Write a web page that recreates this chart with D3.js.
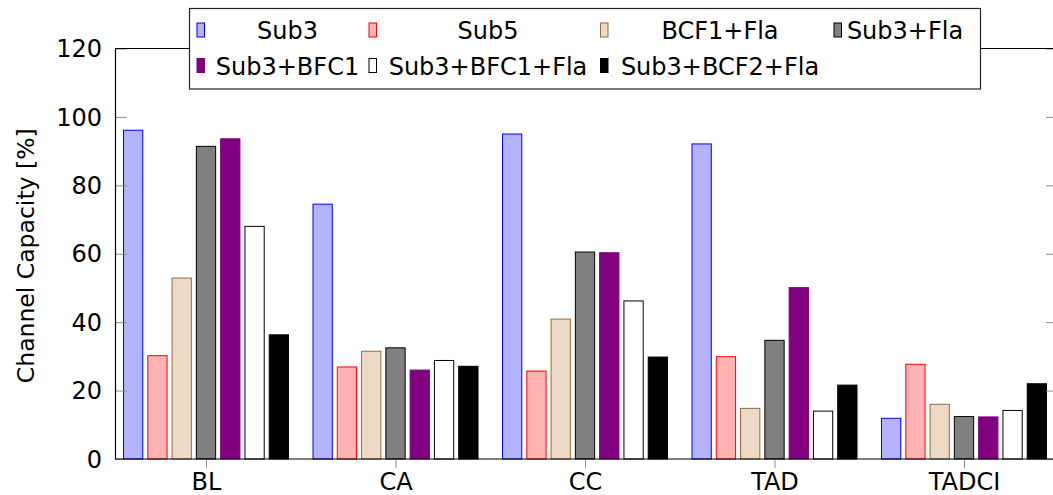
<!DOCTYPE html>
<html>
<head>
<meta charset="utf-8">
<script src="https://cdn.jsdelivr.net/npm/d3@7"></script>
<style>
    body { margin: 0; background: #fff; }
    svg text { font-family: "DejaVu Sans", sans-serif; fill: #000; }
</style>
</head>
<body>
<svg id="chart" width="1053" height="495"></svg>
<script>

var categories = ["BL", "CA", "CC", "TAD", "TADCI"],
    seriesNames = ["Sub3", "Sub5", "BCF1+Fla", "Sub3+Fla", "Sub3+BFC1", "Sub3+BFC1+Fla", "Sub3+BCF2+Fla"],
    sub3 = [96.1, 74.5, 95.0, 92.1, 11.9],
    sub5 = [30.2, 26.9, 25.7, 29.9, 27.7],
    bcf1Fla = [52.9, 31.5, 40.9, 14.8, 16.0],
    sub3Fla = [91.4, 32.5, 60.5, 34.7, 12.4],
    sub3Bfc1 = [93.6, 26.0, 60.3, 50.1, 12.3],
    sub3Bfc1Fla = [68.0, 28.8, 46.2, 14.0, 14.2],
    sub3Bcf2Fla = [36.3, 27.1, 29.8, 21.6, 22.0],
    yTicks = [0, 20, 40, 60, 80, 100, 120],
    fills = ["#b3b3ff", "#ffb3b3", "#ecd9c6", "#808080", "#800080", "#ffffff", "#000000"],
    strokes = ["#0000ff", "#ff0000", "#9a6a3a", "#000000", "#800080", "#000000", "#000000"];

var values = [sub3, sub5, bcf1Fla, sub3Fla, sub3Bfc1, sub3Bfc1Fla, sub3Bcf2Fla];

// note: "top" clashes with window.top, so use plot* names
var svg = d3.select("#chart"),
    plotLeft = 115.5,
    plotRight = 1057,
    plotTop = 48.5,
    plotBottom = 459,
    tickLen = 11;

var x0 = d3.scalePoint().domain(categories).range([206, 964]),
    x1 = d3.scaleBand().domain(seriesNames).range([-85, 85]).paddingInner(0.206).paddingOuter(0.103),
    y = d3.scaleLinear().domain([0, 120]).range([plotBottom, plotTop]);

// bars
seriesNames.forEach(function (name, s) {
    svg.append("g")
        .selectAll("rect")
        .data(values[s])
        .enter().append("rect")
        .attr("x", function (d, i) { return x0(categories[i]) + x1(name); })
        .attr("y", function (d) { return y(d); })
        .attr("width", x1.bandwidth())
        .attr("height", function (d) { return y(0) - y(d); })
        .attr("fill", fills[s])
        .attr("stroke", strokes[s])
        .attr("stroke-width", 1);
});

// y ticks, inward on both sides
var yAxisL = d3.axisRight(y).tickValues(yTicks).tickSize(tickLen).tickFormat("");
svg.append("g").attr("transform", "translate(" + plotLeft + ",0)").call(yAxisL)
    .call(function (g) { g.select(".domain").remove(); g.selectAll("line").attr("stroke", "#8a8a8a"); });
var yAxisR = d3.axisLeft(y).tickValues(yTicks).tickSize(tickLen).tickFormat("");
svg.append("g").attr("transform", "translate(" + plotRight + ",0)").call(yAxisR)
    .call(function (g) { g.select(".domain").remove(); g.selectAll("line").attr("stroke", "#8a8a8a"); });

// y tick labels
svg.append("g").selectAll("text")
    .data(yTicks)
    .enter().append("text")
    .attr("x", 102)
    .attr("y", function (d) { return y(d); })
    .attr("dy", "0.36em")
    .attr("text-anchor", "end")
    .attr("font-size", 24)
    .text(function (d) { return d; });

// x axis, ticks outward
var xAxis = d3.axisBottom(x0).tickSize(9).tickPadding(5);
svg.append("g").attr("transform", "translate(0," + plotBottom + ")").call(xAxis)
    .call(function (g) {
        g.select(".domain").remove();
        g.selectAll("line").attr("stroke", "#8a8a8a");
        g.selectAll("text").attr("font-size", 24).attr("font-family", "DejaVu Sans, sans-serif").attr("fill", "#000");
    });

// frame
svg.append("path")
    .attr("d", "M" + plotLeft + "," + plotBottom + "V" + plotTop + "H" + plotRight + "V" + plotBottom + "Z")
    .attr("fill", "none")
    .attr("stroke", "#000")
    .attr("stroke-width", 1.2);

// y label
svg.append("text")
    .attr("transform", "translate(34," + ((plotTop + plotBottom) / 2 + 2) + ") rotate(-90)")
    .attr("text-anchor", "middle")
    .attr("font-size", 23.5)
    .text("Channel Capacity [%]");

// legend
var legend = svg.append("g");
legend.append("rect")
    .attr("x", 189.5).attr("y", 8.5)
    .attr("width", 791).attr("height", 80.5)
    .attr("fill", "#fff")
    .attr("stroke", "#222")
    .attr("stroke-width", 1.2);

var swatchX = [197, 369, 600.5, 834],
    textX = [287.5, 488, 720, 905],
    rowY = [30, 65.5];

seriesNames.forEach(function (name, s) {
    var col = s % 4,
        row = Math.floor(s / 4);
    legend.append("rect")
        .attr("x", swatchX[col]).attr("y", rowY[row] - 7)
        .attr("width", 7.5).attr("height", 14)
        .attr("fill", fills[s])
        .attr("stroke", strokes[s])
        .attr("stroke-width", 1);
    legend.append("text")
        .attr("x", textX[col])
        .attr("y", rowY[row] + 9)
        .attr("text-anchor", "middle")
        .attr("font-size", 24)
        .text(name);
});

</script>
</body>
</html>
